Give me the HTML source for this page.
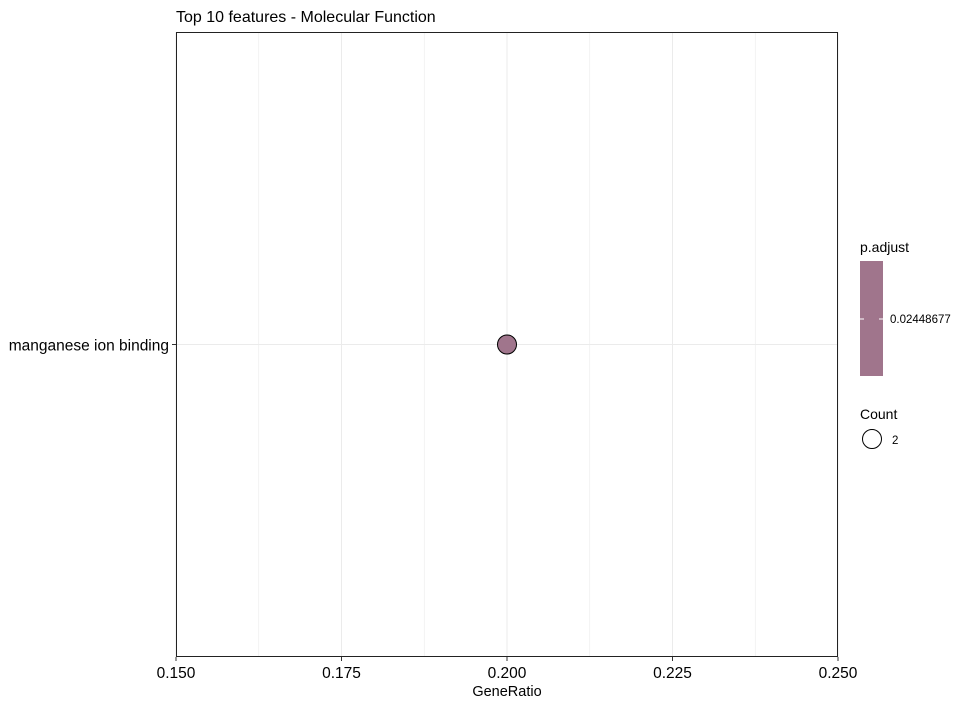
<!DOCTYPE html>
<html><head><meta charset="utf-8"><style>
body{margin:0;background:#fff}
svg{display:block;font-family:"Liberation Sans",Arial,sans-serif}
</style></head><body>
<svg id="chart" width="971" height="707" viewBox="0 0 971 707">
<rect width="971" height="707" fill="#fff"/>
<text x="176" y="22" font-size="16" fill="#000">Top 10 features - Molecular Function</text>
<g id="grid"></g>
<g id="marks"></g>
<rect x="176.5" y="32.5" width="661" height="624" fill="none" stroke="#222" stroke-width="1"/>
<g id="axes"></g>
<text x="507" y="696" font-size="14.5" text-anchor="middle" fill="#000">GeneRatio</text>
<g>
<text x="860" y="252" font-size="14" fill="#000">p.adjust</text>
<rect x="860" y="261" width="23" height="115" fill="#A0758C"/>
<line x1="860" y1="319" x2="864" y2="319" stroke="#fff"/>
<line x1="879" y1="319" x2="883" y2="319" stroke="#fff"/>
<text x="890" y="323" font-size="11.5" fill="#000">0.02448677</text>
<text x="860" y="419" font-size="14" fill="#000">Count</text>
<circle cx="872" cy="439" r="9.5" fill="none" stroke="#000"/>
<text x="892" y="444" font-size="11.5" fill="#000">2</text>
</g>
</svg>
<script>
const categories = ["manganese ion binding"];
const geneRatios = [0.2];
const counts = [2];
const xTicks = [0.15, 0.175, 0.2, 0.225, 0.25];
const xTickLabels = ["0.150","0.175","0.200","0.225","0.250"];
const NS="http://www.w3.org/2000/svg";
const L=176,R=838,T=32,B=657;
const x=v=>L+(v-0.15)/(0.25-0.15)*(R-L);
const y=i=>T+(B-T)*(i+0.5)/categories.length;
const grid=document.getElementById('grid'),marks=document.getElementById('marks'),axes=document.getElementById('axes');
function mk(tag,attrs,parent){const e=document.createElementNS(NS,tag);for(const k in attrs)e.setAttribute(k,attrs[k]);parent.appendChild(e);return e;}
for(let i=0;i<xTicks.length-1;i++){
  const g=mk('line',{x1:x((xTicks[i]+xTicks[i+1])/2),x2:x((xTicks[i]+xTicks[i+1])/2),y1:T,y2:B,stroke:'#ebebeb','stroke-width':0.6},grid);
  
  
}
xTicks.forEach((t,i)=>{
  const g=mk('line',{x1:x(t),x2:x(t),y1:T,y2:B,stroke:'#ebebeb','stroke-width':1},grid);
  
  
  mk('line',{x1:x(t),x2:x(t),y1:B,y2:B+4,stroke:'#333'},axes);
  const tx=mk('text',{x:x(t),y:B+21,'font-size':15.5,'text-anchor':'middle',fill:'#000'},axes);
  tx.textContent=xTickLabels[i];
  
  
});
categories.forEach((c,i)=>{
  const g=mk('line',{x1:L,x2:R,y1:y(i),y2:y(i),stroke:'#ebebeb'},grid);
  
  
  mk('line',{x1:L-4,x2:L,y1:y(i),y2:y(i),stroke:'#333'},axes);
  const tx=mk('text',{x:L-7,y:y(i)+6,'font-size':15.5,'text-anchor':'end',fill:'#000'},axes);
  tx.textContent=c;
  
  
  const p=mk('circle',{cx:x(geneRatios[i]),cy:y(i),r:4.5+counts[i]*2.5,fill:'#A0758C',stroke:'#000','stroke-width':1},marks);
  
  
});
</script>
</body></html>
